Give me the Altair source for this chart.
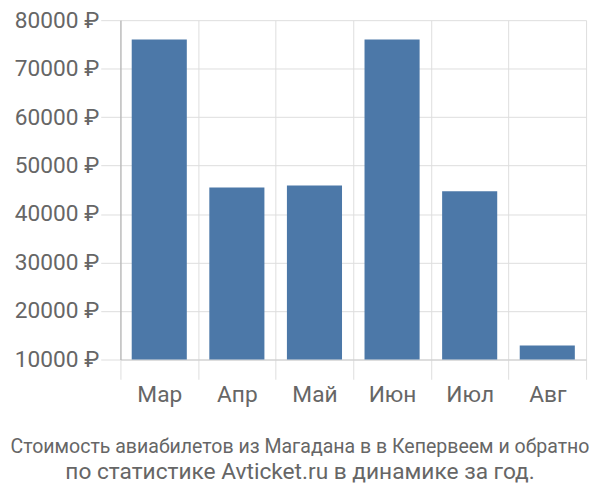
import altair as alt
import pandas as pd

months = ["Мар", "Апр", "Май", "Июн", "Июл", "Авг"]
prices = [76000, 45500, 45900, 76000, 44700, 12900]
y_ticks = [10000, 20000, 30000, 40000, 50000, 60000, 70000, 80000]
title_line1 = "Стоимость авиабилетов из Магадана в в Кеперевеем и обратно".replace("Кеперевеем", "Кеперveем").replace("veем", "веем")
title_line2 = "по статистике Avticket.ru в динамике за год."

df = pd.DataFrame({"month": months, "price": prices})

FONT = "Roboto"
GRAY = "#666666"

bars = alt.Chart(df).mark_bar(
    color="#4c78a8", width=alt.RelativeBandSize(0.71)
).encode(
    x=alt.X("month:N", sort=months, title=None,
            scale=alt.Scale(paddingInner=0, paddingOuter=0),
            axis=alt.Axis(tickBand="extent", grid=True, gridColor="#dddddd",
                          tickColor="#dddddd", tickSize=20, domainColor="#cccccc",
                          labelAngle=0, labelFont=FONT, labelFontSize=23,
                          labelColor=GRAY, labelPadding=5)),
    y=alt.Y("price:Q", title=None,
            scale=alt.Scale(domain=[10000, 80000], zero=False, nice=False),
            axis=alt.Axis(values=y_ticks, grid=True, gridColor="#dddddd",
                          tickColor="#dddddd", tickSize=20, domainColor="#aaaaaa",
                          labelFont=FONT, labelFontSize=23, labelColor=GRAY,
                          labelPadding=2, labelExpr="datum.value + ' ₽'")),
    y2=alt.datum(10000),
)

chart = bars.properties(
    width=472, height=344,
    autosize=alt.AutoSizeParams(type="none"),
    padding={"left": 114, "top": 9, "right": 6, "bottom": 133},
    title=alt.TitleParams(
        text=title_line1,
        subtitle=title_line2,
        orient="bottom", anchor="middle", frame="group", dx=-54, offset=31,
        limit=700,
        font=FONT, fontSize=19.8, fontWeight="normal", color=GRAY,
        subtitleFont=FONT, subtitleFontSize=23, subtitleColor=GRAY, subtitlePadding=4,
    ),
).configure_view(stroke=None)

chart.save("out.html", embed_options={"renderer": "svg", "actions": False})
